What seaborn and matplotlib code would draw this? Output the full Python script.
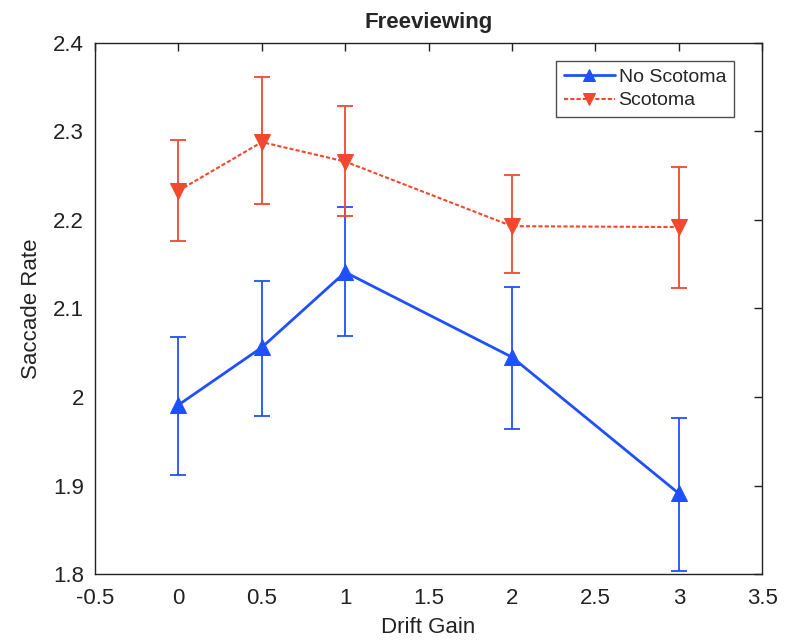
import matplotlib
matplotlib.use("Agg")
import matplotlib.pyplot as plt
import seaborn as sns
import pandas as pd
import numpy as np

drift_gain = [0, 0.5, 1, 2, 3]
no_scotoma = [1.991, 2.056, 2.141, 2.045, 1.891]
no_scotoma_low = [1.912, 1.979, 2.069, 1.964, 1.803]
no_scotoma_high = [2.068, 2.131, 2.215, 2.124, 1.976]
scotoma = [2.233, 2.288, 2.266, 2.193, 2.192]
scotoma_low = [2.176, 2.218, 2.205, 2.140, 2.123]
scotoma_high = [2.290, 2.362, 2.329, 2.251, 2.260]
x_ticks = [-0.5, 0, 0.5, 1, 1.5, 2, 2.5, 3, 3.5]
y_ticks = [1.8, 1.9, 2.0, 2.1, 2.2, 2.3, 2.4]
x_ticklabels = ["-0.5", "0", "0.5", "1", "1.5", "2", "2.5", "3", "3.5"]
y_ticklabels = ["1.8", "1.9", "2", "2.1", "2.2", "2.3", "2.4"]

sns.set_style("white")
plt.rcParams['font.family'] = ['Liberation Sans', 'DejaVu Sans']

blue = "#1f50ff"
red = "#f0492e"

fig = plt.figure(figsize=(7.85, 6.41), dpi=100)
ax = fig.add_axes([0.121, 0.1045, 0.85, 0.8285])

df_a = pd.DataFrame({"x": drift_gain, "y": no_scotoma})
df_b = pd.DataFrame({"x": drift_gain, "y": scotoma})

ax.errorbar(drift_gain, no_scotoma,
            yerr=[np.array(no_scotoma) - np.array(no_scotoma_low), np.array(no_scotoma_high) - np.array(no_scotoma)],
            fmt='none', ecolor=blue, elinewidth=1.3, capsize=6, capthick=1.3, zorder=2)
ax.errorbar(drift_gain, scotoma,
            yerr=[np.array(scotoma) - np.array(scotoma_low), np.array(scotoma_high) - np.array(scotoma)],
            fmt='none', ecolor=red, elinewidth=1.3, capsize=6, capthick=1.3, zorder=2)

sns.lineplot(data=df_a, x="x", y="y", ax=ax, color=blue, marker="^", markersize=11,
             markeredgecolor=blue, linewidth=2, label="No Scotoma", zorder=3)
sns.lineplot(data=df_b, x="x", y="y", ax=ax, color=red, marker="v", markersize=11,
             markeredgecolor=red, linewidth=1.5, linestyle=(0, (2, 1)), label="Scotoma", zorder=3)

ax.set_xlim(-0.5, 3.5)
ax.set_ylim(1.8, 2.4)
ax.set_xticks(x_ticks)
ax.set_xticklabels(x_ticklabels)
ax.set_yticks(y_ticks)
ax.set_yticklabels(y_ticklabels)
ax.tick_params(direction='in', length=6, width=1, labelsize=16, top=True, right=True,
               colors='#222222', labelcolor='#222222')
ax.tick_params(axis='x', pad=10)
ax.tick_params(axis='y', pad=8)
for s in ax.spines.values():
    s.set_color('#222222')
    s.set_linewidth(1)

ax.set_xlabel("Drift Gain", fontsize=16, color='#222222', labelpad=6)
ax.set_ylabel("Saccade Rate", fontsize=16, color='#222222', labelpad=8)
ax.set_title("Freeviewing", fontsize=16, fontweight='bold', pad=11)

leg = ax.legend(loc='upper right', fontsize=14, frameon=True, fancybox=False,
                edgecolor='#222222', handlelength=2.6, borderpad=0.4, labelspacing=0.3,
                handletextpad=0.2, markerscale=0.75, bbox_to_anchor=(0.972, 0.985))
leg.get_frame().set_linewidth(1)

fig.savefig("out.png", dpi=100)
